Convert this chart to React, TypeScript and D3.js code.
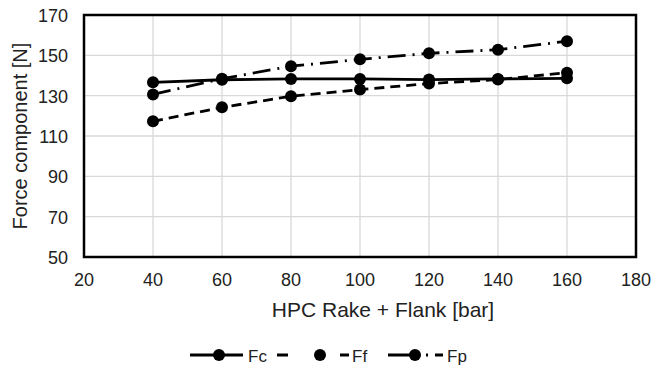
import React from "react";
import * as d3 from "d3";

const pressures = [40, 60, 80, 100, 120, 140, 160];
const fcValues = [136.6, 137.9, 138.3, 138.3, 138.0, 138.3, 138.6];
const ffValues = [117.3, 124.2, 129.7, 133.0, 136.0, 138.0, 141.4];
const fpValues = [130.6, 138.4, 144.6, 148.0, 151.0, 152.8, 157.0];
const xTicks = [20, 40, 60, 80, 100, 120, 140, 160, 180];
const yTicks = [50, 70, 90, 110, 130, 150, 170];
const seriesNames = ["Fc", "Ff", "Fp"];

const W = 654, H = 369;
const left = 84, right = 636, top = 15, bottom = 257;
const font = "'Liberation Sans', Arial, sans-serif";

export default function App() {
  const x = d3.scaleLinear().domain([20, 180]).range([left, right]);
  const y = d3.scaleLinear().domain([50, 170]).range([bottom, top]);
  const line = d3.line<[number, number]>().x(d => x(d[0])).y(d => y(d[1]));
  const series = [
    { name: seriesNames[0], values: fcValues, dash: "none" },
    { name: seriesNames[1], values: ffValues, dash: "10,6" },
    { name: seriesNames[2], values: fpValues, dash: "18,7,2,7" },
  ];
  const legend = [
    { x1: 190, x2: 243, m: 219, t: 248, dash: "none" },
    { x1: 277, x2: 349, m: 320, t: 352, dash: "11,52,9,20" },
    { x1: 388, x2: 443, m: 415, t: 447, dash: "32,6,2,7,8,40" },
  ];
  return (
    <svg width={W} height={H} style={{ position: "absolute", left: 0, top: 0, background: "#fff" }}>
      <rect x={0} y={0} width={W} height={H} fill="#fff" />
      {xTicks.map(t => (
        <line key={"gx" + t} x1={x(t)} x2={x(t)} y1={top} y2={bottom} stroke="#d9d9d9" strokeWidth={1.3} />
      ))}
      {yTicks.map(t => (
        <line key={"gy" + t} x1={left} x2={right} y1={y(t)} y2={y(t)} stroke="#d9d9d9" strokeWidth={1.3} />
      ))}
      <rect x={left} y={top} width={right - left} height={bottom - top} fill="none" stroke="#000" strokeWidth={2.5} />
      {xTicks.map(t => (
        <text key={"tx" + t} x={x(t)} y={286} textAnchor="middle" fontFamily={font} fontSize={18} fill="#222">{t}</text>
      ))}
      {yTicks.map(t => (
        <text key={"ty" + t} x={68} y={y(t) + 7} textAnchor="end" fontFamily={font} fontSize={18} fill="#222">{t}</text>
      ))}
      <text x={383} y={317} textAnchor="middle" fontFamily={font} fontSize={21} fill="#222">HPC Rake + Flank [bar]</text>
      <text transform={`translate(27,136) rotate(-90)`} textAnchor="middle" fontFamily={font} fontSize={20} fill="#222">Force component [N]</text>
      {series.map(s => {
        const pts = pressures.map((p, i) => [p, s.values[i]] as [number, number]);
        return (
          <g key={s.name}>
            <path d={line(pts) || ""} fill="none" stroke="#000" strokeWidth={2.8} strokeDasharray={s.dash} />
            {pts.map((d, i) => (
              <circle key={i} cx={x(d[0])} cy={y(d[1])} r={6} fill="#000" />
            ))}
          </g>
        );
      })}
      {series.map((s, i) => (
        <g key={"lg" + s.name}>
          <line x1={legend[i].x1} x2={legend[i].x2} y1={355} y2={355} stroke="#000" strokeWidth={2.8} strokeDasharray={legend[i].dash} />
          <circle cx={legend[i].m} cy={355} r={6} fill="#000" />
          <text x={legend[i].t} y={361.5} fontFamily={font} fontSize={17} fill="#222">{s.name}</text>
        </g>
      ))}
    </svg>
  );
}
